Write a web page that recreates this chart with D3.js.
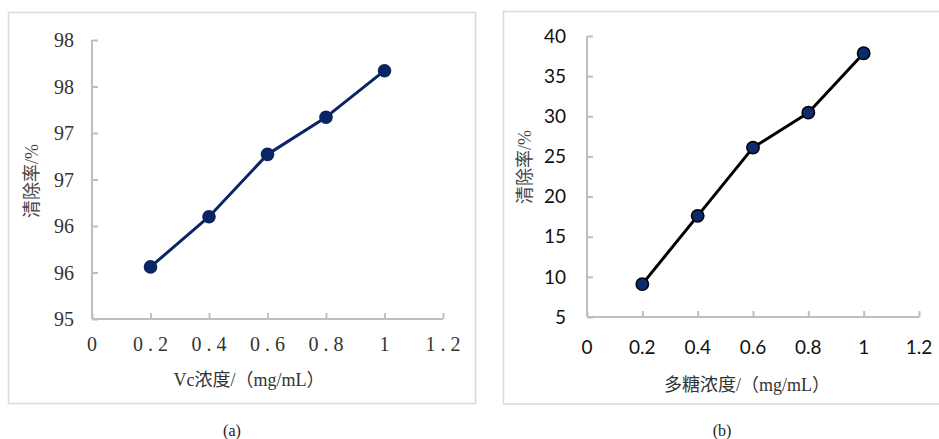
<!DOCTYPE html>
<html>
<head>
<meta charset="utf-8">
<script src="https://cdn.jsdelivr.net/npm/d3@7"></script>
<style>
  html, body { margin: 0; padding: 0; background: #fff; }
  svg { display: block; }
</style>
</head>
<body>
<svg id="chart" width="939" height="439"></svg>
<script>
// Concentration levels shared by both panels (mg/mL)
const concentrations = [0.2, 0.4, 0.6, 0.8, 1.0];

// Panel (a): Vc scavenging rate (%)
const vcRates = [95.56, 96.10, 96.77, 97.17, 97.67];
const vcYTicks = [95, 95.5, 96, 96.5, 97, 97.5, 98];
const vcYLabels = ["95", "96", "96", "97", "97", "98", "98"];

// Panel (b): polysaccharide scavenging rate (%)
const psRates = [9.1, 17.6, 26.1, 30.45, 37.85];
const psYTicks = [5, 10, 15, 20, 25, 30, 35, 40];
const psYLabels = ["5", "10", "15", "20", "25", "30", "35", "40"];

// Shared x axis ticks
const xTicks = [0, 0.2, 0.4, 0.6, 0.8, 1.0, 1.2];
const xLabels = ["0", "0.2", "0.4", "0.6", "0.8", "1", "1.2"];

const svg = d3.select("#chart");
const serif = "Liberation Serif, Tinos, serif";
const serifCJK = "Liberation Serif, Noto Sans CJK SC, serif";
const sans = "Lato, Liberation Sans, sans-serif";

function panel(cfg) {
  const g = svg.append("g");

  // outer frame
  g.append("rect")
    .attr("x", cfg.frame[0]).attr("y", cfg.frame[1])
    .attr("width", cfg.frame[2]).attr("height", cfg.frame[3])
    .attr("fill", "none").attr("stroke", "#d9d9d9").attr("stroke-width", 1.5);

  const x = d3.scaleLinear().domain([0, 1.2]).range(cfg.xRange);
  const y = d3.scaleLinear().domain(cfg.yDomain).range(cfg.yRange);

  // y axis (ticks pointing inward)
  const yAxis = d3.axisRight(y).tickValues(cfg.yTicks).tickSize(6).tickFormat("");
  const ya = g.append("g").attr("transform", `translate(${cfg.xRange[0]},0)`).call(yAxis);
  // x axis (ticks pointing inward)
  const xAxis = d3.axisTop(x).tickValues(xTicks).tickSize(6).tickFormat("");
  const xa = g.append("g").attr("transform", `translate(0,${cfg.yRange[0]})`).call(xAxis);
  [ya, xa].forEach(a => {
    a.selectAll("path, line").attr("stroke", "#bfbfbf").attr("stroke-width", 2);
  });
  ya.select("path.domain").attr("d", `M0,${cfg.yRange[1]}V${cfg.yRange[0]}`);
  xa.select("path.domain").attr("d", `M${cfg.xRange[0]},0H${cfg.xRange[1]}`);

  // y tick labels
  g.append("g").selectAll("text").data(cfg.yTicks).join("text")
    .attr("x", cfg.xRange[0] - cfg.yLabelGap)
    .attr("y", d => y(d))
    .attr("dy", "0.35em")
    .attr("text-anchor", "end")
    .style("font-family", cfg.tickFont)
    .style("font-size", cfg.tickSize + "px")
    .attr("fill", cfg.tickColor)
    .text((d, i) => cfg.yLabels[i]);

  // x tick labels
  g.append("g").selectAll("text").data(xTicks).join("text")
    .attr("x", d => x(d) + (cfg.xLetterSpacing ? cfg.xLetterSpacing / 2 : 0))
    .attr("y", cfg.yRange[0] + cfg.xLabelGap)
    .attr("dy", "0.35em")
    .attr("text-anchor", "middle")
    .style("font-family", cfg.tickFont)
    .style("font-size", cfg.tickSize + "px")
    .style("letter-spacing", (cfg.xLetterSpacing || 0) + "px")
    .attr("fill", cfg.tickColor)
    .text((d, i) => xLabels[i]);

  // data line and markers
  const line = d3.line().x(d => x(d[0])).y(d => y(d[1]));
  const pts = concentrations.map((c, i) => [c, cfg.values[i]]);
  g.append("path").datum(pts)
    .attr("d", line)
    .attr("fill", "none")
    .attr("stroke", cfg.lineColor)
    .attr("stroke-width", 3)
    .attr("stroke-linejoin", "round");
  g.append("g").selectAll("circle").data(pts).join("circle")
    .attr("cx", d => x(d[0]))
    .attr("cy", d => y(d[1]))
    .attr("r", cfg.markerR)
    .attr("fill", cfg.markerFill)
    .attr("stroke", cfg.markerStroke)
    .attr("stroke-width", cfg.markerStrokeW);

  // axis titles
  g.append("text")
    .attr("x", cfg.xTitlePos[0]).attr("y", cfg.xTitlePos[1])
    .attr("dy", "0.35em")
    .attr("text-anchor", "middle")
    .style("font-family", serifCJK)
    .style("font-size", "18px")
    .attr("fill", "#333")
    .text(cfg.xTitle);
  g.append("text")
    .attr("transform", `translate(${cfg.yTitlePos[0]},${cfg.yTitlePos[1]}) rotate(-90)`)
    .attr("dy", "0.35em")
    .attr("text-anchor", "middle")
    .style("font-family", serifCJK)
    .style("font-size", "18px")
    .attr("fill", "#444")
    .text("清除率/%");

  // panel caption
  g.append("text")
    .attr("x", cfg.captionPos[0]).attr("y", cfg.captionPos[1])
    .attr("dy", "0.35em")
    .attr("text-anchor", "middle")
    .style("font-family", serif)
    .style("font-size", "16px")
    .attr("fill", "#222")
    .text(cfg.caption);
}

panel({
  frame: [8.5, 12.5, 467, 391],
  xRange: [92, 443],
  yRange: [319, 40],
  yDomain: [95, 98],
  yTicks: vcYTicks,
  yLabels: vcYLabels,
  values: vcRates,
  tickFont: serif,
  tickSize: 20,
  tickColor: "#333",
  yLabelGap: 18,
  xLabelGap: 25,
  xLetterSpacing: 5,
  lineColor: "#0b2463",
  markerFill: "#0b2463",
  markerStroke: "none",
  markerStrokeW: 0,
  markerR: 6.8,
  xTitle: "Vc浓度/（mg/mL）",
  xTitlePos: [249, 380],
  yTitlePos: [32, 181],
  caption: "(a)",
  captionPos: [232, 430]
});

panel({
  frame: [503.5, 11.5, 460, 392.5],
  xRange: [587, 919],
  yRange: [317, 36],
  yDomain: [5, 40],
  yTicks: psYTicks,
  yLabels: psYLabels,
  values: psRates,
  tickFont: sans,
  tickSize: 19,
  tickColor: "#111",
  yLabelGap: 21,
  xLabelGap: 30,
  xLetterSpacing: 0,
  lineColor: "#000",
  markerFill: "#0c2a6e",
  markerStroke: "#000",
  markerStrokeW: 1.5,
  markerR: 6.2,
  xTitle: "多糖浓度/（mg/mL）",
  xTitlePos: [747, 385],
  yTitlePos: [525, 167],
  caption: "(b)",
  captionPos: [722, 430]
});
</script>
</body>
</html>
